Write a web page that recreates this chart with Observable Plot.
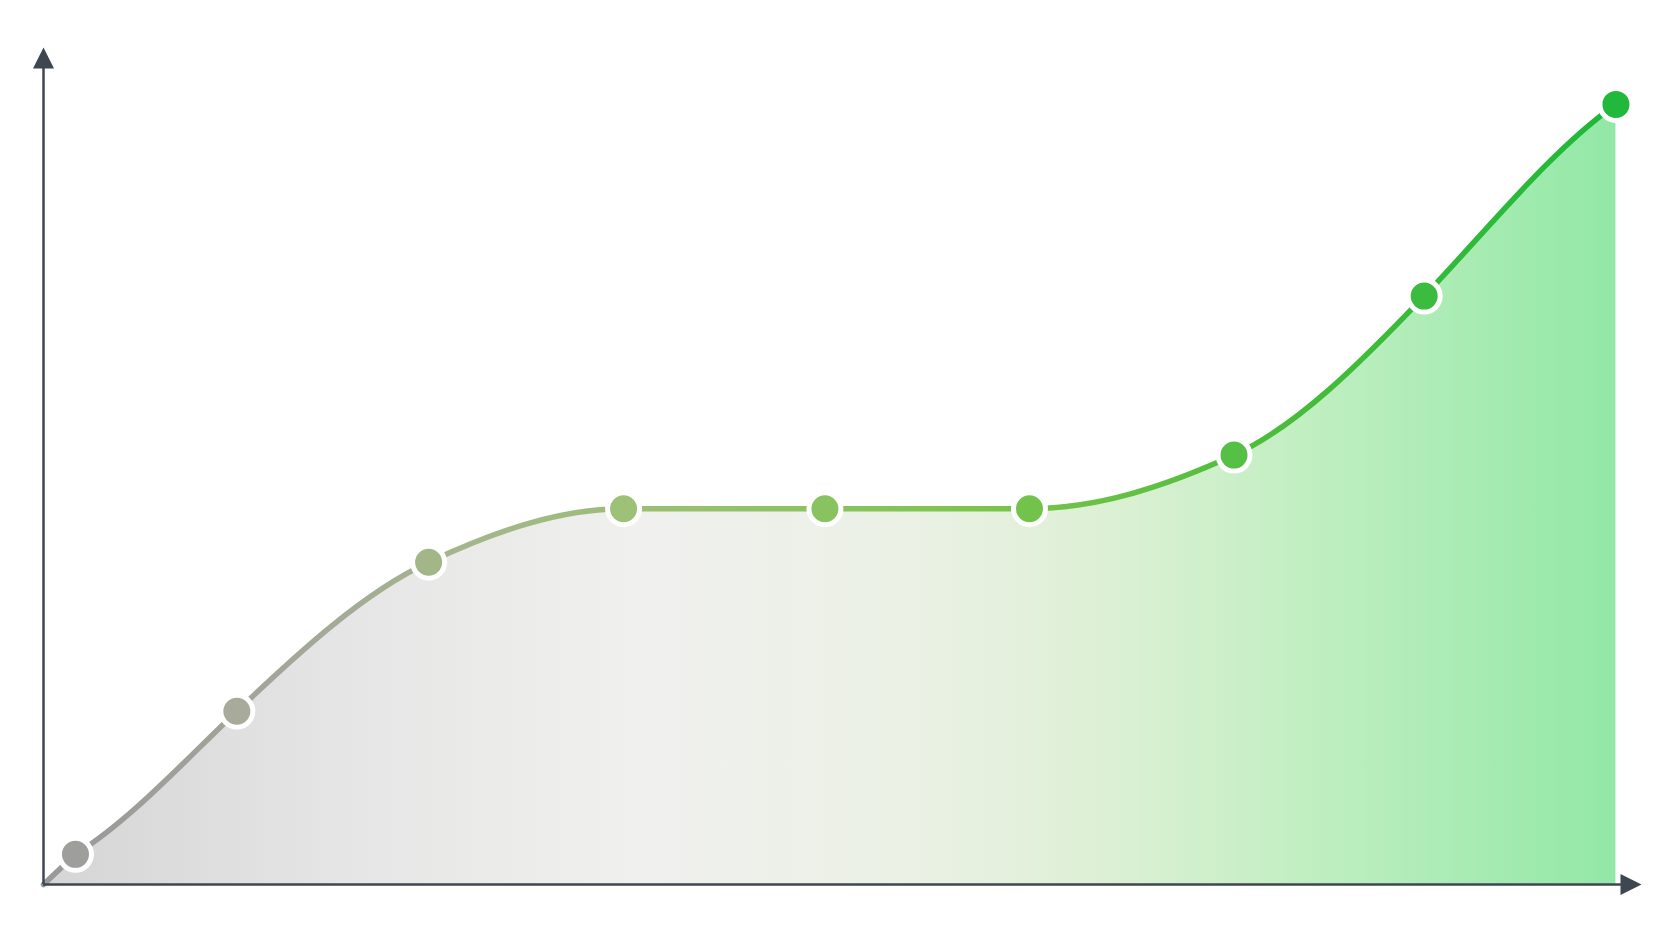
<!DOCTYPE html>
<html>
<head>
<meta charset="utf-8">
<script src="https://cdn.jsdelivr.net/npm/d3@7"></script>
<script src="https://cdn.jsdelivr.net/npm/@observablehq/plot@0.6"></script>
<style>
  html, body { margin: 0; padding: 0; background: #ffffff; }
  #chart svg { display: block; overflow: visible; }
</style>
</head>
<body>
<div id="chart"></div>
<script>
// ---- data ----
const xs = [2.0, 12.1, 24.1, 36.3, 48.9, 61.7, 74.5, 86.4, 98.4];
const values = [3.6, 20.7, 38.5, 44.9, 44.9, 44.9, 51.3, 70.3, 93.2];
const origin = { x: 0, y: 0 };

const points = xs.map((x, i) => ({ x, y: values[i] }));
const lineData = [origin, ...points];

// ---- styles ----
const axisColor = "#3e4650";

// smooth Hermite curve: straight lead-in from the origin, then a spline
// whose tangents are an amplified harmonic mean of neighbouring slopes
// (flat where the data is flat), softened at the ends.
function smoothCurve(context) { return new SmoothCurve(context); }
class SmoothCurve {
  constructor(context) { this._context = context; }
  areaStart() { this._line = 0; }
  areaEnd() { this._line = NaN; }
  lineStart() { this._x = []; this._y = []; }
  point(x, y) { this._x.push(+x); this._y.push(+y); }
  lineEnd() {
    const X = this._x, Y = this._y, n = X.length, c = this._context;
    const K = 1.15, END = 0.7;
    if (n) {
      this._line ? c.lineTo(X[0], Y[0]) : c.moveTo(X[0], Y[0]);
      if (n < 3) {
        for (let i = 1; i < n; ++i) c.lineTo(X[i], Y[i]);
      } else {
        c.lineTo(X[1], Y[1]);
        const px = X.slice(1), py = Y.slice(1), m = px.length;
        const s = [];
        for (let i = 0; i < m - 1; ++i) {
          const dx = px[i + 1] - px[i];
          s.push(dx ? (py[i + 1] - py[i]) / dx : 0);
        }
        const t = new Array(m);
        t[0] = END * s[0];
        t[m - 1] = END * s[m - 2];
        for (let i = 1; i < m - 1; ++i) {
          const a = s[i - 1], b = s[i];
          t[i] = a * b > 0 ? K * 2 * a * b / (a + b) : 0;
        }
        for (let i = 0; i < m - 1; ++i) {
          const d = (px[i + 1] - px[i]) / 3;
          c.bezierCurveTo(px[i] + d, py[i] + t[i] * d, px[i + 1] - d, py[i + 1] - t[i + 1] * d, px[i + 1], py[i + 1]);
        }
      }
    }
    if (this._line || (this._line !== 0 && n === 1)) c.closePath();
    this._line = 1 - this._line;
  }
}

const arrowUp = {
  draw(ctx, size) {
    const w = Math.sqrt(size);
    ctx.moveTo(0, 0);
    ctx.lineTo(w / 2, w);
    ctx.lineTo(-w / 2, w);
    ctx.closePath();
  }
};
const arrowRight = {
  draw(ctx, size) {
    const w = Math.sqrt(size);
    ctx.moveTo(0, 0);
    ctx.lineTo(-w, -w / 2);
    ctx.lineTo(-w, w / 2);
    ctx.closePath();
  }
};
const arrowR = 21 / Math.sqrt(Math.PI);

const svg = Plot.plot({
  width: 1680,
  height: 944,
  x: { domain: [0, 100], range: [43, 1641], axis: null },
  y: { domain: [0, 100], range: [884, 47], axis: null },
  color: {
    type: "linear",
    domain: [0, 12, 36, 62, 100],
    range: ["#9c9c9c", "#a8aa9a", "#9dc177", "#72c34a", "#1db83a"],
    interpolate: "rgb"
  },
  marks: [
    Plot.areaY(lineData, { x: "x", y: "y", curve: smoothCurve, fill: "url(#areaGrad)" }),
    Plot.line(lineData, { x: "x", y: "y", curve: smoothCurve, stroke: "url(#lineGrad)", strokeWidth: 5.5 }),
    Plot.ruleX([0], { y1: 0, y2: 98.5, stroke: axisColor, strokeWidth: 2.5 }),
    Plot.ruleY([0], { x1: 0, x2: 99, stroke: axisColor, strokeWidth: 2.5 }),
    Plot.dot([{ x: 0, y: 100 }], { x: "x", y: "y", symbol: arrowUp, r: arrowR, fill: axisColor, stroke: "none" }),
    Plot.dot([{ x: 100, y: 0 }], { x: "x", y: "y", symbol: arrowRight, r: arrowR, fill: axisColor, stroke: "none" }),
    Plot.dot(points, { x: "x", y: "y", r: 16, fill: "x", stroke: "#ffffff", strokeWidth: 5 })
  ]
});

const defs = d3.select(svg).insert("defs", ":first-child");
const ag = defs.append("linearGradient").attr("id", "areaGrad")
  .attr("x1", 0).attr("x2", 1).attr("y1", 0).attr("y2", 0);
[
  [0, "#d5d5d5"], [0.2, "#e6e6e6"], [0.38, "#f0f0ee"], [0.55, "#ebf1e5"],
  [0.68, "#dcf0d4"], [0.82, "#bdeebf"], [1, "#92e8a6"]
].forEach(([o, c]) => ag.append("stop").attr("offset", o).attr("stop-color", c));

const lg = defs.append("linearGradient").attr("id", "lineGrad")
  .attr("x1", 0).attr("x2", 1).attr("y1", 0).attr("y2", 0);
[
  [0, "#999999"], [0.15, "#a2a69a"], [0.27, "#a5b58c"], [0.4, "#99c070"],
  [0.6, "#7cc44c"], [0.8, "#46bc3a"], [1, "#1db83a"]
].forEach(([o, c]) => lg.append("stop").attr("offset", o).attr("stop-color", c));

document.getElementById("chart").appendChild(svg);
</script>
</body>
</html>
